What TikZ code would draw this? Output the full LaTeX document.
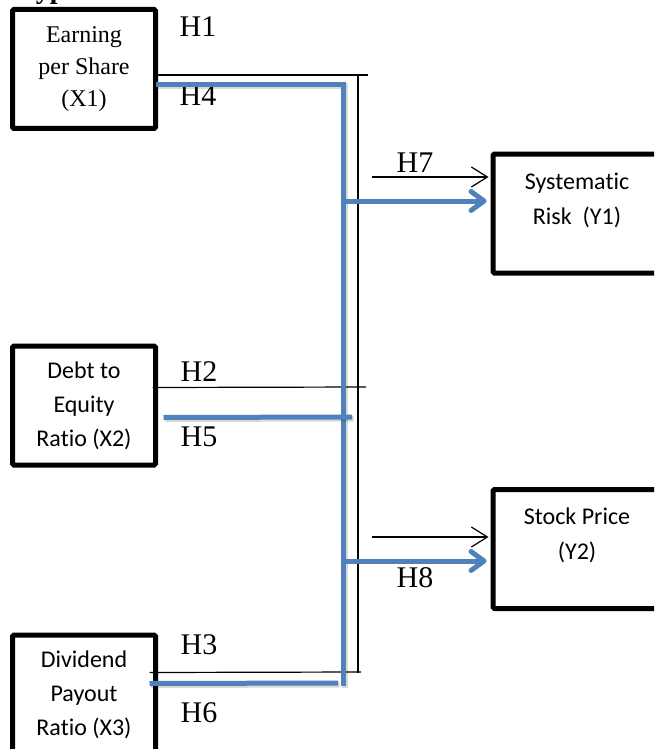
\documentclass[tikz,border=0pt]{standalone}
\usepackage{fontspec}
\setmainfont{Liberation Serif}
\newfontfamily\calfont[Ligatures=NoCommon]{Carlito}
\usetikzlibrary{arrows.meta}
\definecolor{blueC}{RGB}{79,129,189}
\begin{document}
\begin{tikzpicture}[x=1pt,y=-1pt,
  box/.style={draw, line width=5pt, rounded corners=1.5pt, minimum width=143pt, minimum height=119pt, inner sep=0pt, align=center},
  serifbox/.style={font=\fontsize{24}{32}\selectfont},
  sansbox/.style={font=\calfont\fontsize{24}{34}\selectfont},
  ytext/.style={font=\calfont\fontsize{24}{35}\selectfont, align=center, inner sep=0pt},
  hlab/.style={font=\fontsize{30}{30}\selectfont, inner sep=0pt},
  thinline/.style={line width=1.2pt},
  bline/.style={draw=blueC, line width=5pt,
     preaction={draw=black, opacity=0.15, line width=6pt, transform canvas={shift={(1.5pt,-1.5pt)}}}},
  barrow/.style={-{Straight Barb[length=16pt,width=20pt]}},
  bluearrow/.style={-{Straight Barb[length=13pt,width=19pt,round]}}
]
\useasboundingbox (0,0) rectangle (654,749);
\clip (0,0) rectangle (654,749);

% cut-off heading (only its descenders show at the top edge)
\node[anchor=base west, font=\bfseries\fontsize{28}{28}\selectfont, inner sep=0pt] (title) at (14,-1) {Hypothesis};

% boxes
\node[box, serifbox] (x1) at (84,69) {Earning\\per Share\\(X1)};
\node[box, sansbox] (x2) at (84,405.5) {Debt to\\Equity\\Ratio (X2)};
\node[box, sansbox] (x3) at (84,694.5) {Dividend\\Payout\\Ratio (X3)};
\node[box, minimum width=168pt] (y1) at (577,213.5) {};
\node[box, minimum width=168pt] (y2) at (577,549) {};
\node[ytext] (y1t) at (577,200) {Systematic\\Risk\ \ (Y1)};
\node[ytext] (y2t) at (577,535) {Stock Price\\(Y2)};

% labels
\node[hlab] (h1) at (198,27) {H1};
\node[hlab] (h4) at (198,96) {H4};
\node[hlab] (h2) at (199,372) {H2};
\node[hlab] (h5) at (199,437) {H5};
\node[hlab] (h3) at (199,645) {H3};
\node[hlab] (h6) at (199,713) {H6};
\node[hlab] (h7) at (415,163) {H7};
\node[hlab] (h8) at (415,578) {H8};

% black bus
\coordinate (bt) at (358,74);
\coordinate (bb) at (358,672.5);
\coordinate (e1) at (368,75);
\coordinate (e2) at (366,387);
\coordinate (e3) at (361,672);
\draw[thinline] ([yshift=-6pt]x1.east) -- (e1);
\draw[thinline] ([xshift=-5.5pt,yshift=18pt]x2.east) -- (e2);
\draw[thinline] ([xshift=-8.5pt,yshift=22pt]x3.east) -- (e3);
\draw[thinline] (bt) -- (bb);
\coordinate (a7) at (372,177);
\coordinate (a8) at (372,537);
\draw[thinline, barrow, shorten >=2pt] (a7) -- (a7 -| y1.west);
\draw[thinline, barrow, shorten >=2pt] (a8) -- (a8 -| y2.west);

% blue bus
\coordinate (c1) at (343,85);
\coordinate (c2) at (343,686);
\coordinate (c5) at (352,417);
\coordinate (c6) at (338,683);
\draw[bline] ([xshift=-2.5pt,yshift=-16pt]x1.east) -- (c1) -- (c2);
\draw[bline] ([xshift=5.5pt,yshift=-12pt]x2.east) -- (c5);
\draw[bline] ([xshift=-8.5pt,yshift=11pt]x3.east) -- (c6);
\coordinate (b7) at (345,201);
\coordinate (b8) at (345,561);
\draw[draw=blueC, line width=5pt, bluearrow, shorten >=4pt] (b7) -- (b7 -| y1.west);
\draw[draw=blueC, line width=5pt, bluearrow, shorten >=4pt] (b8) -- (b8 -| y2.west);
\end{tikzpicture}
\end{document}
